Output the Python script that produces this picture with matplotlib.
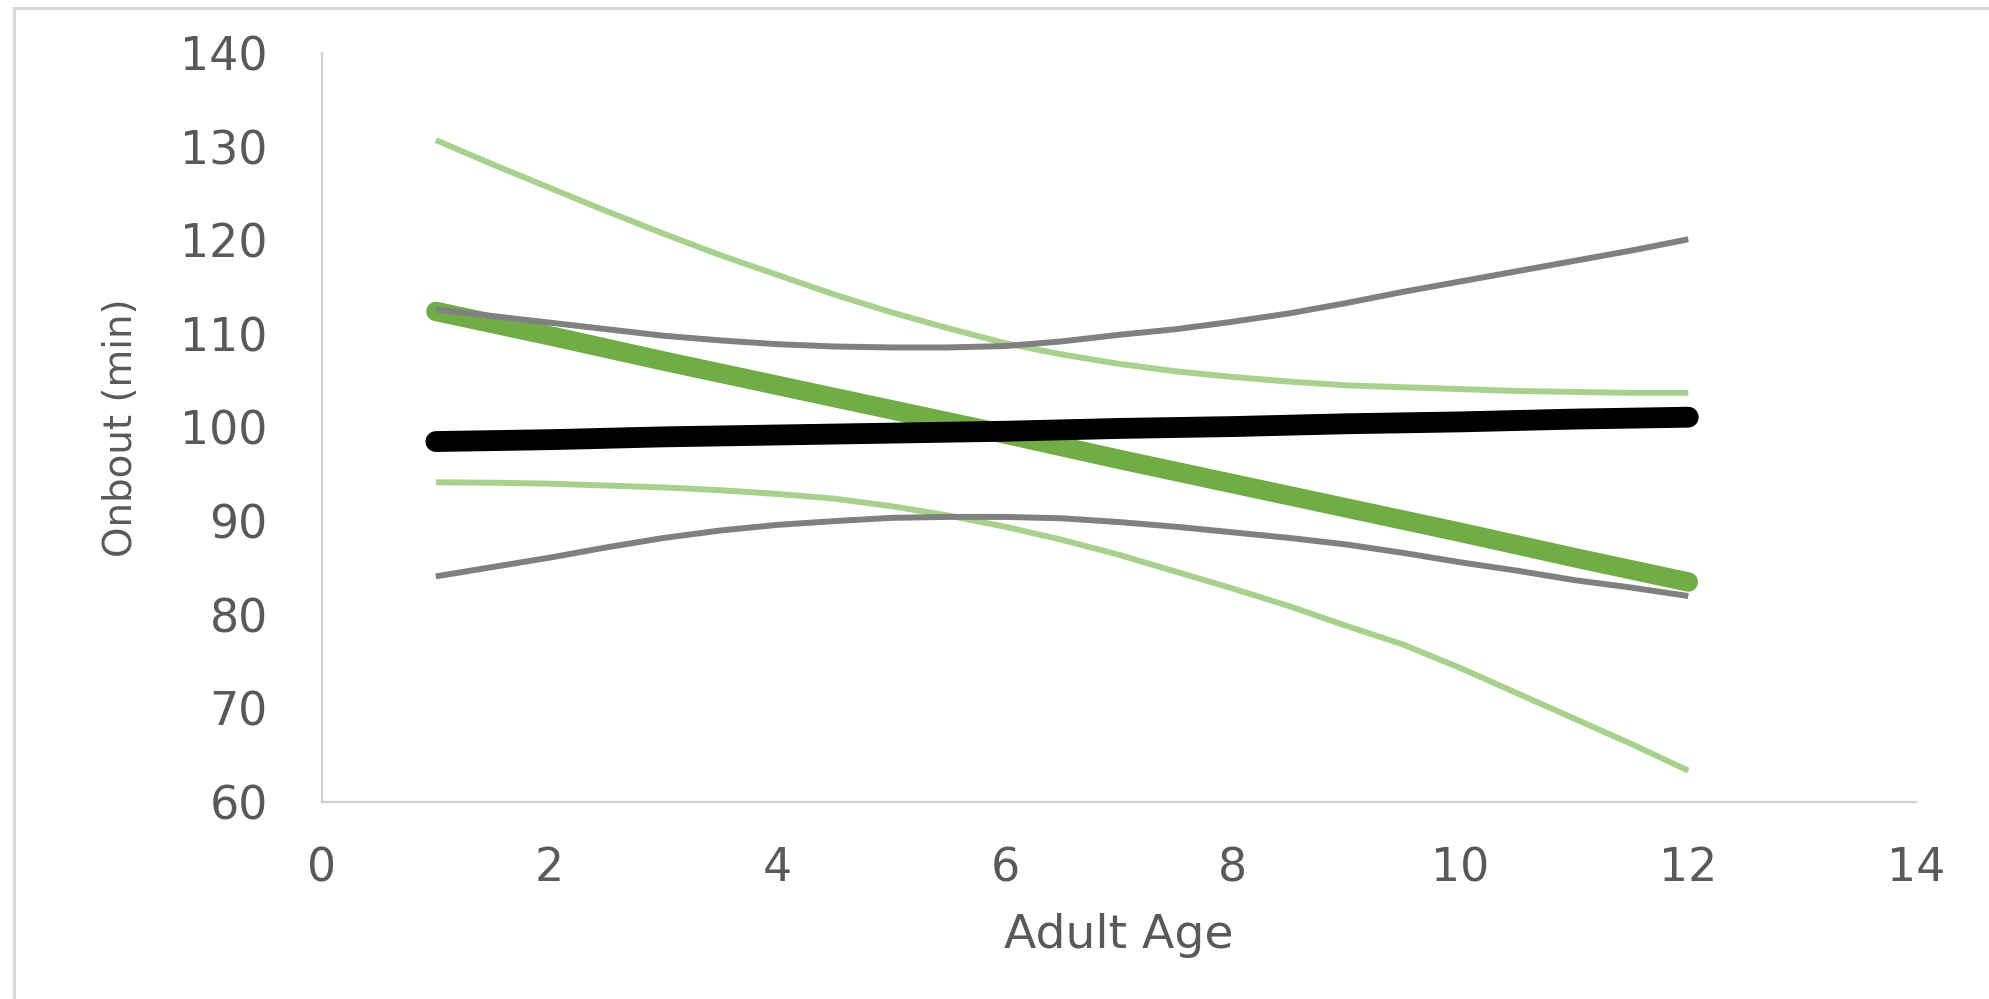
import matplotlib
matplotlib.use("Agg")
import matplotlib.pyplot as plt
from matplotlib.patches import Rectangle

plt.rcParams['font.family'] = ['DejaVu Sans']

# adult age grid for the confidence bands
age_band = [1, 1.5, 2, 2.5, 3, 3.5, 4, 4.5, 5, 5.5, 6, 6.5,
            7, 7.5, 8, 8.5, 9, 9.5, 10, 10.5, 11, 11.5, 12]

# grey band (around black fit)
grey_upper = [112.6, 111.9, 111.2, 110.5, 109.8, 109.3, 108.9, 108.65, 108.55, 108.55, 108.7, 109.2,
              109.9, 110.5, 111.3, 112.2, 113.3, 114.5, 115.6, 116.7, 117.8, 118.9, 120.1]
grey_lower = [84.1, 85.1, 86.1, 87.2, 88.2, 89.0, 89.6, 90.0, 90.35, 90.45, 90.45, 90.3,
              89.9, 89.4, 88.8, 88.2, 87.5, 86.6, 85.6, 84.7, 83.7, 82.9, 82.0]

# light green band (around green fit)
lgreen_upper = [130.7, 128.1, 125.6, 123.1, 120.7, 118.4, 116.3, 114.2, 112.3, 110.6, 109.0, 107.8,
                106.8, 106.0, 105.4, 104.9, 104.5, 104.3, 104.1, 103.9, 103.8, 103.7, 103.7]
lgreen_lower = [94.15, 94.1, 94.0, 93.8, 93.6, 93.3, 92.9, 92.4, 91.6, 90.6, 89.4, 88.0,
                86.4, 84.6, 82.8, 80.9, 78.8, 76.8, 74.3, 71.6, 68.9, 66.2, 63.35]

# fitted lines
age_fit = [1, 2, 3, 4, 5, 6, 7, 8, 9, 10, 11, 12]
black_fit = [98.5, 98.7, 99.0, 99.2, 99.4, 99.6, 99.9, 100.1, 100.4, 100.6, 100.9, 101.1]
green_fit = [112.4, 109.8, 107.1, 104.5, 101.9, 99.3, 96.6, 94.0, 91.4, 88.8, 86.1, 83.5]

x_ticks = [0, 2, 4, 6, 8, 10, 12, 14]
y_ticks = [60, 70, 80, 90, 100, 110, 120, 130, 140]

W, H = 1990, 999
fig = plt.figure(figsize=(W / 100, H / 100), dpi=100)
ax = fig.add_axes([322 / W, 1 - 802 / H, (1916 - 322) / W, (802 - 53) / H])

# chart area border
fig.patches.append(Rectangle((14 / W, -0.01), 1.02, 1 - 8 / H + 0.01,
                             transform=fig.transFigure, fill=False,
                             edgecolor='#D9D9D9', linewidth=2.2))

ax.plot(age_band, lgreen_upper, color='#A9D18E', lw=4.3, solid_capstyle='butt', zorder=2)
ax.plot(age_band, lgreen_lower, color='#A9D18E', lw=4.3, solid_capstyle='butt', zorder=2)
ax.plot(age_fit, green_fit, color='#70AD47', lw=14, solid_capstyle='round', zorder=3)
ax.plot(age_fit, black_fit, color='black', lw=15, solid_capstyle='round', zorder=4)
ax.plot(age_band, grey_upper, color='#808080', lw=4.3, solid_capstyle='butt', zorder=5)
ax.plot(age_band, grey_lower, color='#808080', lw=4.3, solid_capstyle='butt', zorder=5)

ax.set_xlim(0, 14)
ax.set_ylim(60, 140)
ax.set_xticks(x_ticks)
ax.set_yticks(y_ticks)
ax.tick_params(length=0, labelsize=33, labelcolor='#595959')
ax.tick_params(axis='y', pad=39)
ax.tick_params(axis='x', pad=32)

for side in ['top', 'right']:
    ax.spines[side].set_visible(False)
for side in ['left', 'bottom']:
    ax.spines[side].set_color('#D0D0D0')
    ax.spines[side].set_linewidth(1.6)

fig.text(1119 / W, 1 - 935 / H, 'Adult Age', ha='center', va='center',
         fontsize=34, color='#595959')
fig.text(121 / W, 1 - 428 / H, 'Onbout (min)', ha='center', va='center',
         rotation=90, fontsize=28, color='#595959')

fig.savefig('out.png', dpi=100, facecolor='white')
